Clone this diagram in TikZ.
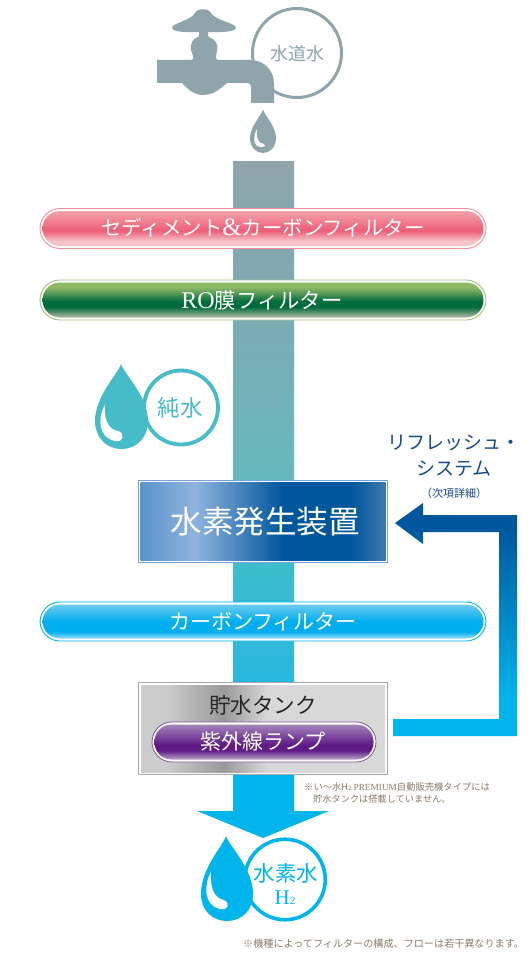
\documentclass[tikz,border=0pt]{standalone}
\usepackage{fontspec}
\setmainfont{Noto Sans CJK JP}
\newfontfamily\latinserif{Liberation Serif}
\definecolor{tapgrey}{HTML}{8FA5AB}
\definecolor{teal}{HTML}{46BCC8}
\definecolor{sky}{HTML}{00B5EC}
\definecolor{navy}{HTML}{1B4A8C}
\definecolor{notebrown}{HTML}{8C7B6B}
\definecolor{st1}{HTML}{7FAAB3}
\definecolor{st2}{HTML}{66B8BC}
\definecolor{st3}{HTML}{3CBDCD}
\definecolor{st4}{HTML}{2BB8DE}
\pgfdeclareverticalshading{streamshade}{100bp}{color(0bp)=(sky);color(27.8bp)=(sky);color(35.9bp)=(st4);color(43.6bp)=(st3);color(50.9bp)=(st2);color(64.4bp)=(st1);color(75bp)=(tapgrey);color(100bp)=(tapgrey)}
\definecolor{pk1}{HTML}{F4A3AB}\definecolor{pk2}{HTML}{EE5D76}\definecolor{pk3}{HTML}{F6C4C8}
\definecolor{gr1}{HTML}{8DB866}\definecolor{gr2}{HTML}{006C3C}\definecolor{gr3}{HTML}{B4BAA4}
\definecolor{bl1}{HTML}{6CCBF0}\definecolor{bl2}{HTML}{00AEEF}\definecolor{bl3}{HTML}{9ADDF5}
\definecolor{pu1}{HTML}{A585BC}\definecolor{pu2}{HTML}{5E1A86}\definecolor{pu3}{HTML}{BBA5CC}
\pgfdeclareverticalshading{pinkshade}{100bp}{color(0bp)=(pk3);color(25bp)=(pk3);color(32bp)=(pk3);color(47bp)=(pk2);color(75bp)=(pk1);color(100bp)=(pk1)}
\pgfdeclareverticalshading{greenshade}{100bp}{color(0bp)=(gr3);color(25bp)=(gr3);color(40bp)=(gr2);color(48bp)=(gr2);color(68bp)=(gr1);color(75bp)=(gr1);color(100bp)=(gr1)}
\pgfdeclareverticalshading{blueshade}{100bp}{color(0bp)=(bl3);color(25bp)=(bl3);color(35bp)=(bl2);color(50bp)=(bl2);color(75bp)=(bl1);color(100bp)=(bl1)}
\pgfdeclareverticalshading{purpleshade}{100bp}{color(0bp)=(pu3);color(25bp)=(pu3);color(38bp)=(pu2);color(46bp)=(pu2);color(75bp)=(pu1);color(100bp)=(pu1)}
\definecolor{rx1}{HTML}{5B93CC}\definecolor{rx2}{HTML}{8FB4DE}\definecolor{rx3}{HTML}{00569C}\definecolor{rx4}{HTML}{3E78B0}
\pgfdeclarehorizontalshading{reactorshade}{100bp}{color(0bp)=(rx1);color(25bp)=(rx1);color(36bp)=(rx2);color(54bp)=(rx3);color(68bp)=(rx3);color(75bp)=(rx4);color(100bp)=(rx4)}
\definecolor{tk1}{HTML}{CCCCCC}\definecolor{tk2}{HTML}{9A9A9A}\definecolor{tk3}{HTML}{D8D8D8}
\pgfdeclarehorizontalshading{tankshade}{100bp}{color(0bp)=(tk1);color(25bp)=(tk1);color(30bp)=(tk1);color(42bp)=(tk2);color(51bp)=(tk3);color(75bp)=(tk3);color(100bp)=(tk3)}
\definecolor{ra1}{HTML}{00569C}
\pgfdeclareverticalshading{returnshade}{100bp}{color(0bp)=(sky);color(25bp)=(sky);color(33bp)=(sky);color(70bp)=(ra1);color(75bp)=(ra1);color(100bp)=(ra1)}
\tikzset{
  px/.style={x=1pt,y=-1pt},
  label/.style={inner sep=0pt,outer sep=0pt,anchor=center},
  pillframe/.style={rounded corners=20pt,line width=0.9pt,fill=white},
  pillinner/.style={rounded corners=17.5pt},
  ring/.style={circle,draw,fill=white,inner sep=0pt},
}
\begin{document}
\begin{tikzpicture}[px]
\useasboundingbox (0,0) rectangle (530,960);
\fill[white] (0,0) rectangle (530,960);
% stream with arrow head
\shade[shading=streamshade] (233,162) rectangle (294,811);
\fill[sky] (233,772) rectangle (294,812);
\fill[sky] (197,811) -- (329,811) -- (263,838) -- cycle;
% tap ring and tap
\node[ring,draw=tapgrey,line width=3pt,minimum size=89pt] (tapring) at (297,53) {};
\fill[tapgrey] (157,60) -- (191,60) .. controls (193,60) and (194,58) .. (193,56)
  -- (191,50) .. controls (190,44) and (193,38) .. (198,37) -- (199,36) -- (199,32)
  .. controls (190,32) and (174,33) .. (172,28) .. controls (172,23) and (190,21) .. (195,13)
  .. controls (197,8) and (209,8) .. (211,13) .. controls (216,21) and (236,23) .. (236,28)
  .. controls (234,33) and (216,32) .. (208,32) -- (208,36) -- (209,37)
  .. controls (215,39) and (219,45) .. (217,50) -- (216,56) .. controls (216,58) and (216,60) .. (218,60)
  -- (250,60) .. controls (264,60) and (274,70) .. (274,84) -- (274,103) -- (251,103) -- (251,87)
  .. controls (251,84) and (250,83) .. (247,83) -- (227,83)
  .. controls (221,88) and (214,95) .. (203,95) .. controls (193,95) and (187,88) .. (182,83)
  -- (157,83) -- cycle;
\node[label,text=tapgrey,font=\fontsize{18pt}{18pt}\selectfont] (taptext) at (297,54) {水道水};
% tap drop
\fill[tapgrey] (263,110) .. controls (266,117) and (276,127) .. (276,138)
  .. controls (276,147) and (270,153) .. (263,153) .. controls (256,153) and (250,147) .. (250,138)
  .. controls (250,127) and (260,117) .. (263,110) -- cycle;
\fill[white] (257,129) .. controls (253,136) and (253,147) .. (261,147) .. controls (265,147) and (266,145) .. (264,144)
  .. controls (258,144) and (256,137) .. (257,129) -- cycle;
% filters
\draw[pillframe,draw=pk2!70!white] (40,208.5) rectangle (486,248.5);
\shade[shading=pinkshade,pillinner] (42.5,211) rectangle (483.5,246);
\node[label,text=white,font=\fontsize{20.4pt}{20.4pt}\selectfont] (sediment) at (263,228) {セディメント{\latinserif\fontsize{25pt}{25pt}\selectfont\&}カーボンフィルター};
\draw[pillframe,draw=gr1!85!white] (40,280) rectangle (486,320);
\shade[shading=greenshade,pillinner] (42.5,282.5) rectangle (483.5,317.5);
\node[label,text=white,font=\fontsize{21.4pt}{21.4pt}\selectfont] (ro) at (262,300) {{\latinserif\fontsize{24pt}{24pt}\selectfont RO}膜フィルター};
% pure water
\node[ring,draw=teal,line width=3.8pt,minimum size=74pt] (purering) at (181,407.5) {};
\fill[teal] (121,364) .. controls (124,374) and (148,396) .. (148,421)
  .. controls (148,437) and (137,449) .. (121.5,449) .. controls (106,449) and (95,437) .. (95,421)
  .. controls (95,396) and (118,374) .. (121,364) -- cycle;
\fill[white] (105,405) .. controls (98,416) and (97,437) .. (115,441) .. controls (124,443) and (125,433) .. (118,431)
  .. controls (107,429) and (104,418) .. (105,405) -- cycle;
\node[label,text=teal,font=\fontsize{22.5pt}{22.5pt}\selectfont] (puretext) at (180,408) {純水};
% reactor
\fill[white] (138.5,480.5) rectangle (387.5,562.5);
\draw[draw=rx1!85!white,line width=1pt] (138.5,480.5) rectangle (387.5,562.5);
\shade[shading=reactorshade] (140.5,482.5) rectangle (385.5,560.5);
\node[label,text=white,font=\fontsize{31.5pt}{31.5pt}\selectfont] (reactor) at (265,522) {水素発生装置};
% return arrow
\shade[shading=returnshade] (395,523) -- (423,503) -- (423,515) -- (517,515) -- (517,736) -- (393,736) -- (393,719) -- (499,719) -- (499,532) -- (423,532) -- (423,544) -- cycle;
\node[label,text=navy,font=\fontsize{19pt}{19pt}\selectfont] (refresh1) at (454,443) {リフレッシュ・};
\node[label,text=navy,font=\fontsize{19pt}{19pt}\selectfont] (refresh2) at (454,469) {システム};
\node[label,text=navy,font=\fontsize{11pt}{11pt}\selectfont] (refresh3) at (454,493) {（次項詳細）};
% carbon filter
\draw[pillframe,draw=sky] (40,602) rectangle (486,641);
\shade[shading=blueshade,pillinner] (42.5,604.5) rectangle (483.5,638.5);
\node[label,text=white,font=\fontsize{21pt}{21pt}\selectfont] (carbon) at (263,622) {カーボンフィルター};
% tank
\fill[white] (138.5,682.5) rectangle (387.5,774.5);
\draw[draw=black!35,line width=1pt] (138.5,682.5) rectangle (387.5,774.5);
\shade[shading=tankshade] (141,685) rectangle (385,772);
\node[label,text=black!85,font=\fontsize{21.5pt}{21.5pt}\selectfont] (tank) at (263,705) {貯水タンク};
\draw[pillframe,draw=pu2!75!white,rounded corners=20pt,line width=0.8pt] (152,722) rectangle (376,762);
\shade[shading=purpleshade,rounded corners=17pt] (154.5,724.5) rectangle (373.5,759.5);
\node[label,text=white,font=\fontsize{21pt}{21pt}\selectfont] (uv) at (263,742) {紫外線ランプ};
% notes
\node[anchor=west,inner sep=0pt,text=notebrown,font=\fontsize{9.3pt}{9.3pt}\selectfont] (note1) at (304,787) {※い〜水H{\fontsize{6pt}{6pt}\selectfont 2} {\latinserif PREMIUM}自動販売機タイプには};
\node[anchor=west,inner sep=0pt,text=notebrown,font=\fontsize{9.2pt}{9.2pt}\selectfont] (note2) at (313,799) {貯水タンクは搭載していません。};
\node[anchor=west,inner sep=0pt,text=notebrown,font=\fontsize{10.1pt}{10.1pt}\selectfont] (note3) at (243,944) {※機種によってフィルターの構成、フローは若干異なります。};
% hydrogen water
\node[ring,draw=sky,line width=3.6pt,minimum size=80.5pt] (h2ring) at (285,879.5) {};
\fill[sky] (226,836) .. controls (229,846) and (253,868) .. (253,894)
  .. controls (253,910) and (242,921) .. (227,921) .. controls (212,921) and (201,910) .. (201,894)
  .. controls (201,868) and (223,846) .. (226,836) -- cycle;
\fill[white] (211,872) .. controls (204,884) and (203,905) .. (220,909) .. controls (229,911) and (230,902) .. (224,900)
  .. controls (213,898) and (210,886) .. (211,872) -- cycle;
\node[label,text=sky,font=\fontsize{21.5pt}{21.5pt}\selectfont] (h2a) at (286,873) {水素水};
\node[label,text=sky] (h2b) at (285,898) {{\latinserif\fontsize{21pt}{21pt}\selectfont H}{\latinserif\fontsize{11pt}{11pt}\selectfont 2}};
\end{tikzpicture}
\end{document}
